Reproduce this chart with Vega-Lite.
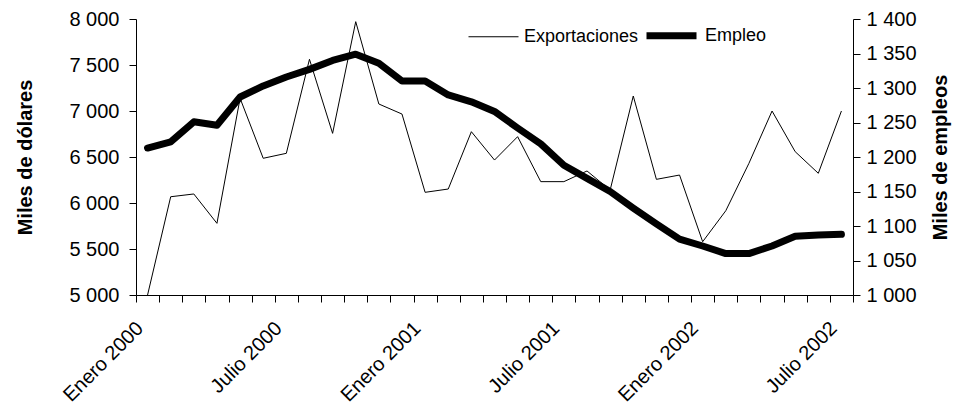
{
  "$schema": "https://vega.github.io/schema/vega-lite/v6.json",
  "autosize": "none",
  "width": 717,
  "height": 276,
  "padding": {"left": 136, "top": 19, "right": 101, "bottom": 113},
  "background": "white",
  "config": {
    "view": {"stroke": null},
    "font": "Liberation Sans",
    "axis": {"labelFont": "Liberation Sans", "titleFont": "Liberation Sans", "labelFontSize": 20, "titleFontSize": 20, "titleFontWeight": "bold", "labelColor": "black", "titleColor": "black", "domainColor": "black", "tickColor": "black", "grid": false, "tickSize": 7},
    "legend": {"labelFont": "Liberation Sans", "labelFontSize": 18, "labelColor": "black"}
  },
  "data": {"values": [
    {"mes": "Enero 2000", "exp": 5000, "emp": 1213},
    {"mes": "Febrero 2000", "exp": 6068, "emp": 1222},
    {"mes": "Marzo 2000", "exp": 6098, "emp": 1251},
    {"mes": "Abril 2000", "exp": 5779, "emp": 1246},
    {"mes": "Mayo 2000", "exp": 7138, "emp": 1287},
    {"mes": "Junio 2000", "exp": 6486, "emp": 1303},
    {"mes": "Julio 2000", "exp": 6540, "emp": 1316},
    {"mes": "Agosto 2000", "exp": 7562, "emp": 1327},
    {"mes": "Septiembre 2000", "exp": 6757, "emp": 1340},
    {"mes": "Octubre 2000", "exp": 7971, "emp": 1349},
    {"mes": "Noviembre 2000", "exp": 7076, "emp": 1336},
    {"mes": "Diciembre 2000", "exp": 6967, "emp": 1310},
    {"mes": "Enero 2001", "exp": 6116, "emp": 1310},
    {"mes": "Febrero 2001", "exp": 6152, "emp": 1290},
    {"mes": "Marzo 2001", "exp": 6775, "emp": 1280},
    {"mes": "Abril 2001", "exp": 6467, "emp": 1266},
    {"mes": "Mayo 2001", "exp": 6721, "emp": 1242},
    {"mes": "Junio 2001", "exp": 6232, "emp": 1219},
    {"mes": "Julio 2001", "exp": 6232, "emp": 1188},
    {"mes": "Agosto 2001", "exp": 6348, "emp": 1169},
    {"mes": "Septiembre 2001", "exp": 6141, "emp": 1150},
    {"mes": "Octubre 2001", "exp": 7163, "emp": 1126},
    {"mes": "Noviembre 2001", "exp": 6257, "emp": 1103},
    {"mes": "Diciembre 2001", "exp": 6304, "emp": 1081},
    {"mes": "Enero 2002", "exp": 5579, "emp": 1071},
    {"mes": "Febrero 2002", "exp": 5916, "emp": 1060},
    {"mes": "Marzo 2002", "exp": 6431, "emp": 1060},
    {"mes": "Abril 2002", "exp": 7000, "emp": 1071},
    {"mes": "Mayo 2002", "exp": 6558, "emp": 1085},
    {"mes": "Junio 2002", "exp": 6323, "emp": 1087},
    {"mes": "Julio 2002", "exp": 7000, "emp": 1088}
  ]},
  "encoding": {
    "x": {
      "field": "mes", "type": "ordinal", "sort": null,
      "scale": {"paddingInner": 0, "paddingOuter": 0},
      "axis": {
        "title": null, "labelAngle": -45, "labelAlign": "right", "labelBaseline": "middle",
        "tickBand": "extent", "labelPadding": 23, "labelOffset": -8,
        "labelExpr": "indexof(datum.label, 'Enero') == 0 || indexof(datum.label, 'Julio') == 0 ? datum.label : ''"
      }
    }
  },
  "layer": [
    {
      "mark": {"type": "line", "color": "black", "strokeJoin": "miter"},
      "encoding": {
        "y": {"field": "exp", "type": "quantitative", "scale": {"domain": [5000, 8000], "nice": false, "zero": false},
          "axis": {"title": "Miles de dólares", "values": [5000, 5500, 6000, 6500, 7000, 7500, 8000], "labelExpr": "replace(format(datum.value, ','), ',', ' ')", "labelPadding": 10, "titlePadding": 33}},
        "strokeWidth": {"datum": "Exportaciones", "type": "nominal",
          "scale": {"domain": ["Exportaciones", "Empleo"], "range": [1, 7]},
          "legend": {"title": null, "orient": "none", "legendX": 332, "legendY": -12, "direction": "horizontal", "symbolType": "stroke", "symbolSize": 2500, "symbolStrokeColor": "black", "labelOffset": 5, "columnPadding": -7}}
      }
    },
    {
      "mark": {"type": "line", "color": "black", "strokeCap": "round", "strokeJoin": "round"},
      "encoding": {
        "y": {"field": "emp", "type": "quantitative", "scale": {"domain": [1000, 1400], "nice": false, "zero": false},
          "axis": {"title": "Miles de empleos", "orient": "right", "titleAngle": 270, "titleBaseline": "top", "values": [1000, 1050, 1100, 1150, 1200, 1250, 1300, 1350, 1400], "labelExpr": "replace(format(datum.value, ','), ',', ' ')", "labelPadding": 6, "titlePadding": 14}},
        "strokeWidth": {"datum": "Empleo", "type": "nominal"}
      }
    }
  ],
  "resolve": {"scale": {"y": "independent"}}
}
